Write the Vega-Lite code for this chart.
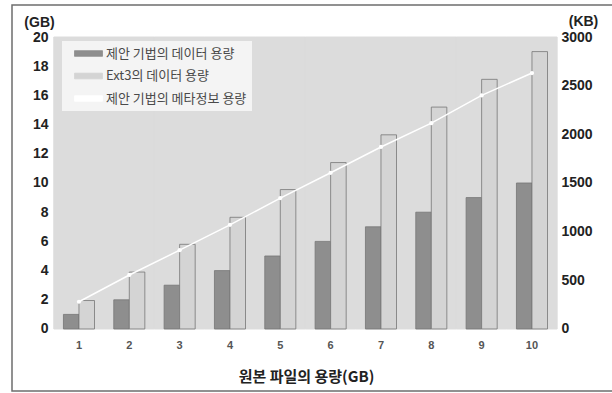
{
  "$schema": "https://vega.github.io/schema/vega-lite/v6.json",
  "width": 604,
  "height": 386,
  "autosize": {"type": "none"},
  "padding": {"left": 12, "top": 5, "right": 0, "bottom": 2},
  "background": "white",
  "config": {
    "view": {"stroke": "#6e6e6e", "strokeWidth": 1.5, "fill": "white"},
    "axisLeft": {
      "values": [0, 2, 4, 6, 8, 10, 12, 14, 16, 18, 20],
      "labelOverlap": false,
      "domain": false,
      "ticks": false,
      "grid": false,
      "labelPadding": 13,
      "labelFont": "Liberation Sans",
      "labelFontSize": 14,
      "labelFontWeight": "bold",
      "labelColor": "#222222",
      "titleAngle": 0,
      "titleX": -22,
      "titleY": 17,
      "titleAlign": "center",
      "titleBaseline": "middle",
      "titleFont": "Liberation Sans",
      "titleFontSize": 14,
      "titleFontWeight": "bold",
      "titleColor": "#222222"
    }
  },
  "datasets": {
    "data_gb": [
      {"size": 1, "series": "제안 기법의 데이터 용량", "gb": 1},
      {"size": 1, "series": "Ext3의 데이터 용량", "gb": 1.95},
      {"size": 2, "series": "제안 기법의 데이터 용량", "gb": 2},
      {"size": 2, "series": "Ext3의 데이터 용량", "gb": 3.9},
      {"size": 3, "series": "제안 기법의 데이터 용량", "gb": 3},
      {"size": 3, "series": "Ext3의 데이터 용량", "gb": 5.8},
      {"size": 4, "series": "제안 기법의 데이터 용량", "gb": 4},
      {"size": 4, "series": "Ext3의 데이터 용량", "gb": 7.65},
      {"size": 5, "series": "제안 기법의 데이터 용량", "gb": 5},
      {"size": 5, "series": "Ext3의 데이터 용량", "gb": 9.55},
      {"size": 6, "series": "제안 기법의 데이터 용량", "gb": 6},
      {"size": 6, "series": "Ext3의 데이터 용량", "gb": 11.4},
      {"size": 7, "series": "제안 기법의 데이터 용량", "gb": 7},
      {"size": 7, "series": "Ext3의 데이터 용량", "gb": 13.3},
      {"size": 8, "series": "제안 기법의 데이터 용량", "gb": 8},
      {"size": 8, "series": "Ext3의 데이터 용량", "gb": 15.2},
      {"size": 9, "series": "제안 기법의 데이터 용량", "gb": 9},
      {"size": 9, "series": "Ext3의 데이터 용량", "gb": 17.1},
      {"size": 10, "series": "제안 기법의 데이터 용량", "gb": 10},
      {"size": 10, "series": "Ext3의 데이터 용량", "gb": 19.0}
    ],
    "meta_kb": [
      {"size": 1, "series": "제안 기법의 메타정보 용량", "kb": 280},
      {"size": 2, "series": "제안 기법의 메타정보 용량", "kb": 555},
      {"size": 3, "series": "제안 기법의 메타정보 용량", "kb": 810},
      {"size": 4, "series": "제안 기법의 메타정보 용량", "kb": 1070},
      {"size": 5, "series": "제안 기법의 메타정보 용량", "kb": 1345},
      {"size": 6, "series": "제안 기법의 메타정보 용량", "kb": 1605},
      {"size": 7, "series": "제안 기법의 메타정보 용량", "kb": 1870},
      {"size": 8, "series": "제안 기법의 메타정보 용량", "kb": 2115},
      {"size": 9, "series": "제안 기법의 메타정보 용량", "kb": 2400},
      {"size": 10, "series": "제안 기법의 메타정보 용량", "kb": 2630}
    ]
  },
  "layer": [
    {
      "layer": [
        {
          "data": {"name": "meta_kb"},
          "mark": {"type": "bar", "fill": "#dcdcdc", "stroke": "#dcdcdc", "strokeWidth": 1},
          "encoding": {
            "x": {
              "field": "size",
              "type": "ordinal",
              "scale": {"paddingInner": 0, "paddingOuter": 1.3245, "align": 0.4153},
              "axis": {
                "orient": "bottom",
                "offset": -62,
                "domain": false,
                "ticks": false,
                "grid": false,
                "labelAngle": 0,
                "labelPadding": 10,
                "labelFont": "Liberation Sans",
                "labelFontSize": 11,
                "labelFontWeight": "bold",
                "labelColor": "#555555",
                "title": "원본 파일의 용량(GB)",
                "titleFont": "Noto Sans CJK KR",
                "titleFontSize": 15,
                "titleFontWeight": "bold",
                "titleColor": "#222222",
                "titleX": 294,
                "titleY": 47,
                "titleAlign": "center",
                "titleBaseline": "middle"
              }
            },
            "y": {
              "datum": 20,
              "type": "quantitative",
              "scale": {"domain": [-4.2466, 22.1918], "nice": false, "zero": false},
              "axis": {"orient": "left", "offset": -49, "title": "(GB)", "values": [0, 2, 4, 6, 8, 10, 12, 14, 16, 18, 20]}
            }
          }
        },
        {
          "data": {"name": "data_gb"},
          "mark": {"type": "bar", "stroke": "#767676", "strokeWidth": 0.8},
          "encoding": {
            "x": {"field": "size", "type": "ordinal"},
            "xOffset": {
              "field": "series",
              "type": "nominal",
              "scale": {
                "domain": ["제안 기법의 데이터 용량", "Ext3의 데이터 용량"],
                "paddingInner": 0,
                "paddingOuter": 0.62
              }
            },
            "y": {
              "field": "gb",
              "type": "quantitative",
              "axis": {"orient": "left", "offset": -49, "title": "(GB)", "values": [0, 2, 4, 6, 8, 10, 12, 14, 16, 18, 20]}
            },
            "color": {
              "field": "series",
              "type": "nominal",
              "scale": {
                "domain": ["제안 기법의 데이터 용량", "Ext3의 데이터 용량", "제안 기법의 메타정보 용량"],
                "range": ["#8e8e8e", "#d4d4d4", "#ffffff"]
              },
              "legend": {
                "orient": "none",
                "legendX": 50,
                "legendY": 36,
                "title": null,
                "fillColor": "#f4f4f4",
                "padding": 5,
                "symbolType": "M-2,-0.4H2V0.4H-2Z",
                "symbolSize": 196,
                "symbolOffset": 14,
                "symbolStrokeWidth": 0.8,
                "labelFont": "Noto Sans CJK KR",
                "labelFontSize": 13,
                "labelColor": "#4a4a4a",
                "labelOffset": 10,
                "rowPadding": 7.5,
                "encode": {
                  "symbols": {
                    "update": {
                      "fill": {"signal": "scale('color', datum.value)"},
                      "stroke": {"signal": "datum.value === '제안 기법의 메타정보 용량' ? 'transparent' : '#808080'"}
                    }
                  }
                }
              }
            }
          }
        }
      ]
    },
    {
      "data": {"name": "meta_kb"},
      "mark": {"type": "line", "strokeWidth": 1.5, "point": {"filled": true, "size": 18, "color": "white"}},
      "encoding": {
        "x": {"field": "size", "type": "ordinal"},
        "y": {
          "field": "kb",
          "type": "quantitative",
          "scale": {"domain": [-636.99, 3328.77], "nice": false, "zero": false},
          "axis": {
            "orient": "right",
            "offset": -68,
            "values": [0, 500, 1000, 1500, 2000, 2500, 3000],
            "format": "d",
            "labelOverlap": false,
            "domain": false,
            "ticks": false,
            "grid": false,
            "labelPadding": 13,
            "labelFont": "Liberation Sans",
            "labelFontSize": 14,
            "labelFontWeight": "bold",
            "labelColor": "#222222",
            "title": "(KB)",
            "titleAngle": 0,
            "titleX": 35,
            "titleY": 16,
            "titleAlign": "center",
            "titleBaseline": "middle",
            "titleFont": "Liberation Sans",
            "titleFontSize": 14,
            "titleFontWeight": "bold",
            "titleColor": "#222222"
          }
        },
        "color": {"field": "series", "type": "nominal"}
      }
    }
  ],
  "resolve": {"scale": {"y": "independent"}}
}
